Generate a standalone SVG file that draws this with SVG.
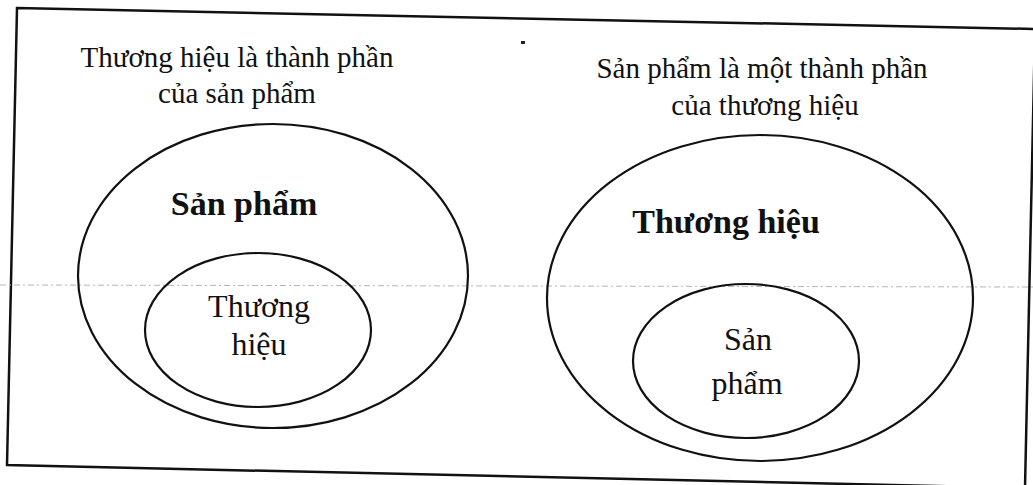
<svg xmlns="http://www.w3.org/2000/svg" width="1033" height="485" viewBox="0 0 1033 485">
  <style>
    .frame { fill: none; stroke: #111; stroke-width: 2.5; }
    .ell { fill: none; stroke: #111; stroke-width: 2.2; }
    .cap { font-family: "Liberation Serif", "Times New Roman", serif; font-size: 29px; fill: #111; text-anchor: middle; }
    .big { font-family: "Liberation Serif", "Times New Roman", serif; font-size: 34px; font-weight: bold; fill: #111; text-anchor: middle; }
    .small { font-family: "Liberation Serif", "Times New Roman", serif; font-size: 32px; fill: #111; text-anchor: middle; }
    .scan { fill: none; stroke: #b5b5b5; stroke-width: 1; stroke-dasharray: 6 3 2 3; }
  </style>
  <rect width="1033" height="485" fill="#fff"/>
  <polygon id="frame" class="frame" points="17,8 1035,29 1025,488 7,465"/>
  <line class="scan" x1="0" y1="285" x2="1033" y2="287"/>
  <rect x="521" y="41" width="4" height="3" fill="#222"/>

  <g id="left-caption">
    <text class="cap" x="237" y="67">Thương hiệu là thành phần</text>
    <text class="cap" x="237" y="103">của sản phẩm</text>
  </g>
  <g id="right-caption">
    <text class="cap" x="762" y="78">Sản phẩm là một thành phần</text>
    <text class="cap" x="765" y="115">của thương hiệu</text>
  </g>

  <g id="node-san-pham-outer">
    <ellipse class="ell" cx="273" cy="276" rx="195" ry="152"/>
    <text class="big" x="244" y="215">Sản phẩm</text>
  </g>
  <g id="node-thuong-hieu-inner">
    <ellipse class="ell" cx="258" cy="330" rx="113" ry="77"/>
    <text class="small" x="259" y="317">Thương</text>
    <text class="small" x="259" y="355">hiệu</text>
  </g>

  <g id="node-thuong-hieu-outer">
    <ellipse class="ell" cx="760" cy="298" rx="213" ry="163"/>
    <text class="big" x="726" y="233">Thương hiệu</text>
  </g>
  <g id="node-san-pham-inner">
    <ellipse class="ell" cx="746" cy="361" rx="113" ry="77"/>
    <text class="small" x="748" y="350">Sản</text>
    <text class="small" x="747" y="394">phẩm</text>
  </g>

  <g id="connectors"></g>
</svg>
